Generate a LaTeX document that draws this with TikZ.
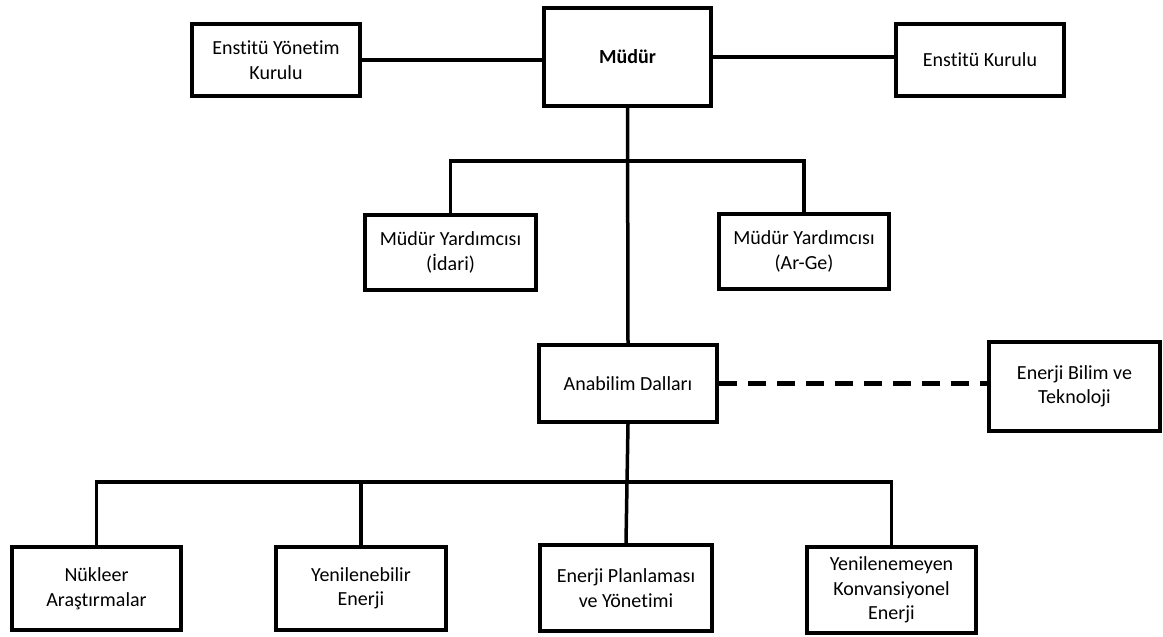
\documentclass[tikz,border=0pt]{standalone}
\usepackage{fontspec}
\setmainfont[Ligatures=NoCommon]{Carlito}

\begin{document}
\begin{tikzpicture}[x=1pt, y=-1pt,
        kutu/.style={draw, line width=4pt, align=center, inner sep=2pt,
            font=\fontsize{20}{24.5}\selectfont},
        hat/.style={line width=3.5pt}]
        \useasboundingbox (0,0) rectangle (1163,637);
        % ust sira
        \node[kutu, minimum width=168pt, minimum height=72pt] (eyk) at (276,60) {Enstitü Yönetim\\Kurulu};
        \node[kutu, minimum width=167pt, minimum height=98pt] (mudur) at (627.5,57) {\bfseries Müdür};
        \node[kutu, minimum width=168pt, minimum height=72pt] (ek) at (980,60) {Enstitü Kurulu};
        % yardimcilar
        \node[kutu, minimum width=171pt, minimum height=75pt] (idari) at (450.5,252.5) {Müdür Yardımcısı\\(İdari)};
        \node[kutu, minimum width=170pt, minimum height=75pt] (arge) at (804,251.5) {Müdür Yardımcısı\\(Ar-Ge)};
        % anabilim dallari
        \node[kutu, minimum width=178pt, minimum height=77pt] (anabilim) at (628,383.5) {Anabilim Dalları};
        \node[kutu, minimum width=171pt, minimum height=89pt] (ebt) at (1074.5,386.5) {Enerji Bilim ve\\Teknoloji};
        % alt sira
        \node[kutu, minimum width=169pt, minimum height=83pt] (nukleer) at (96.5,588.5) {Nükleer\\Araştırmalar};
        \node[kutu, minimum width=170pt, minimum height=83pt] (yenilenebilir) at (361,588.5) {Yenilenebilir\\Enerji};
        \node[kutu, minimum width=172pt, minimum height=86pt] (planlama) at (626,588) {Enerji Planlaması\\ve Yönetimi};
        \node[kutu, minimum width=169pt, minimum height=86pt] (konvansiyonel) at (891.5,590) {Yenilenemeyen\\Konvansiyonel\\Enerji};
        \coordinate (ustbar) at (0,161);
        \coordinate (altbar) at (0,482);
        \draw[hat] (eyk.east) -- (eyk.east -| mudur.west);
        \draw[hat] (mudur.east) -- (mudur.east -| ek.west);
        \draw[hat] (mudur.south) -- (anabilim.north);
        \draw[hat] (idari.north) -- (idari.north |- ustbar) -- (arge.north |- ustbar) -- (arge.north);
        \draw[line width=5pt, dash pattern=on 18pt off 11pt] (anabilim.east) -- (anabilim.east -| ebt.west);
        \draw[hat] (anabilim.south) -- (planlama.north);
        \draw[hat] (nukleer.north) -- (nukleer.north |- altbar) -- (konvansiyonel.north |- altbar) -- (konvansiyonel.north);
        \draw[hat] (yenilenebilir.north) -- (yenilenebilir.north |- altbar);
    \end{tikzpicture}
\end{document}
